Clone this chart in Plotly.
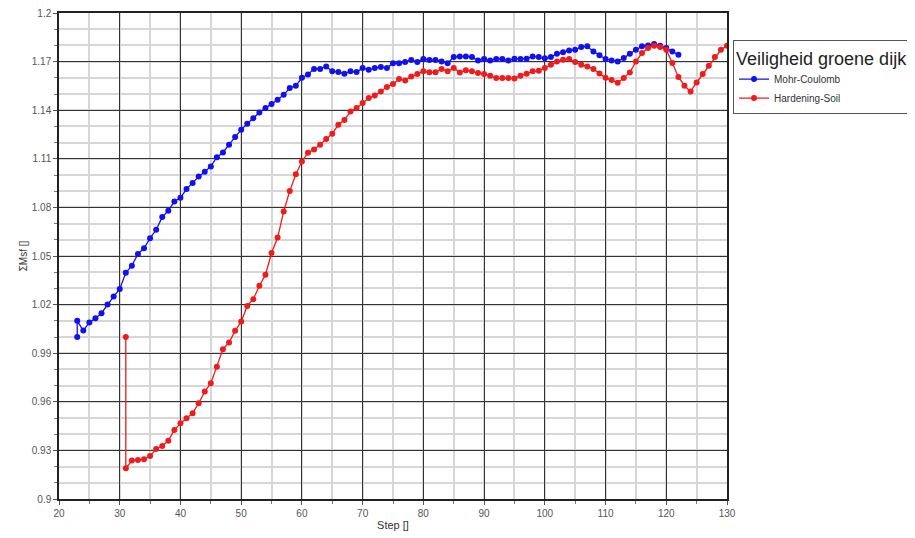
import plotly.graph_objects as go

# Mohr-Coulomb series
mc_steps = [23, 23] + list(range(24, 123))
mc_values = [1.000, 1.010, 1.004, 1.009, 1.0116, 1.0147, 1.020, 1.025, 1.0297, 1.0396,
             1.044, 1.0513, 1.0548, 1.061, 1.0662, 1.074, 1.078, 1.0836, 1.086, 1.0913,
             1.095, 1.099, 1.102, 1.1053, 1.111, 1.1139, 1.1187, 1.1234, 1.128, 1.1316,
             1.1351, 1.1386, 1.1413, 1.1438, 1.1464, 1.1495, 1.1537, 1.1551, 1.160, 1.162,
             1.1655, 1.1655, 1.167, 1.164, 1.1636, 1.1625, 1.164, 1.1636, 1.166, 1.165,
             1.166, 1.1667, 1.166, 1.169, 1.169, 1.1697, 1.171, 1.1697, 1.1716, 1.171,
             1.171, 1.170, 1.169, 1.1728, 1.1732, 1.1732, 1.1728, 1.1707, 1.1716, 1.1707,
             1.1716, 1.1716, 1.1707, 1.1718, 1.1716, 1.1718, 1.1732, 1.1728, 1.172, 1.1728,
             1.1749, 1.1757, 1.1769, 1.1773, 1.179, 1.1794, 1.1763, 1.1739, 1.1716, 1.1707,
             1.170, 1.1722, 1.1749, 1.1773, 1.1794, 1.180, 1.1808, 1.1798, 1.1784, 1.1763,
             1.1742]

# Hardening-Soil series
hs_steps = [31, 31] + list(range(32, 131))
hs_values = [1.000, 0.919, 0.9237, 0.924, 0.9245, 0.9266, 0.9309, 0.9327, 0.936, 0.9426,
             0.9467, 0.9498, 0.953, 0.9591, 0.9663, 0.9715, 0.9817, 0.9925, 0.9966, 1.0038,
             1.0095, 1.0192, 1.0233, 1.0316, 1.0384, 1.0518, 1.0614, 1.0775, 1.0902, 1.1005,
             1.1083, 1.1138, 1.1158, 1.1187, 1.1222, 1.1255, 1.131, 1.134, 1.1392, 1.1413,
             1.1444, 1.1475, 1.1491, 1.1516, 1.1543, 1.1561, 1.1592, 1.1584, 1.1608, 1.1623,
             1.164, 1.1634, 1.1634, 1.1654, 1.164, 1.166, 1.1632, 1.1646, 1.164, 1.163,
             1.1623, 1.1613, 1.1598, 1.1598, 1.1598, 1.1596, 1.1613, 1.1625, 1.164, 1.1644,
             1.166, 1.168, 1.170, 1.1711, 1.1716, 1.1697, 1.168, 1.167, 1.1654, 1.1626,
             1.160, 1.1586, 1.157, 1.1598, 1.1633, 1.170, 1.1753, 1.1784, 1.1798, 1.179,
             1.1773, 1.1691, 1.1605, 1.1551, 1.1516, 1.1571, 1.1623, 1.1674, 1.1728, 1.1773,
             1.1798]

x_ticks = [20, 30, 40, 50, 60, 70, 80, 90, 100, 110, 120, 130]
y_ticks = [0.9, 0.93, 0.96, 0.99, 1.02, 1.05, 1.08, 1.11, 1.14, 1.17, 1.2]
y_labels = ["0.9", "0.93", "0.96", "0.99", "1.02", "1.05", "1.08", "1.11", "1.14", "1.17", "1.2"]

fig = go.Figure()
fig.add_trace(go.Scatter(x=mc_steps, y=mc_values, mode="lines+markers", name="Mohr-Coulomb",
                         line=dict(color="#1010f0", width=1.3),
                         marker=dict(color="#1010f0", size=6)))
fig.add_trace(go.Scatter(x=hs_steps, y=hs_values, mode="lines+markers", name="Hardening-Soil",
                         line=dict(color="#ee1c1c", width=1.3),
                         marker=dict(color="#ee1c1c", size=6)))

axis_font = dict(family="Liberation Sans, Arial, sans-serif", size=10, color="#555555")

fig.update_layout(
    width=915, height=538,
    margin=dict(l=51, r=196, t=5, b=47),
    paper_bgcolor="white", plot_bgcolor="white",
    font=dict(family="Liberation Sans, Arial, sans-serif", color="#333333"),
    legend=dict(
        title=dict(text="Veiligheid groene dijk", font=dict(size=18, color="#222222")),
        font=dict(size=10, color="#333333"),
        x=1.009, y=0.944, xanchor="left", yanchor="top",
        bordercolor="#555555", borderwidth=1, bgcolor="white",
        tracegroupgap=0, itemwidth=30,
    ),
    xaxis=dict(
        range=[20, 130], tickvals=x_ticks, tickfont=axis_font, automargin=False,
        ticklabeloverflow="allow",
        title=dict(text="Step []", font=dict(size=11, color="#333333"), standoff=4),
        showgrid=True, gridcolor="#333333", gridwidth=1,
        showline=True, linecolor="#222222", linewidth=1.5, mirror=True,
        ticks="outside", ticklen=4, tickcolor="#555555",
        minor=dict(dtick=5, showgrid=True, gridcolor="#d6d6d6", gridwidth=1.5,
                   ticks="outside", ticklen=3, tickcolor="#777777"),
        zeroline=False,
    ),
    yaxis=dict(
        range=[0.9, 1.2], tickvals=y_ticks, ticktext=y_labels, tickfont=axis_font,
        automargin="left", ticklabeloverflow="allow",
        title=dict(text="ΣMsf []", font=dict(size=10, color="#333333"), standoff=2),
        showgrid=True, gridcolor="#333333", gridwidth=1,
        showline=True, linecolor="#222222", linewidth=1.5, mirror=True,
        ticks="outside", ticklen=4, tickcolor="#555555",
        minor=dict(tick0=0.9, dtick=0.01, showgrid=True, gridcolor="#d6d6d6", gridwidth=1.5,
                   ticks="outside", ticklen=3, tickcolor="#777777"),
        zeroline=False,
    ),
)

fig.write_html("out.html")
